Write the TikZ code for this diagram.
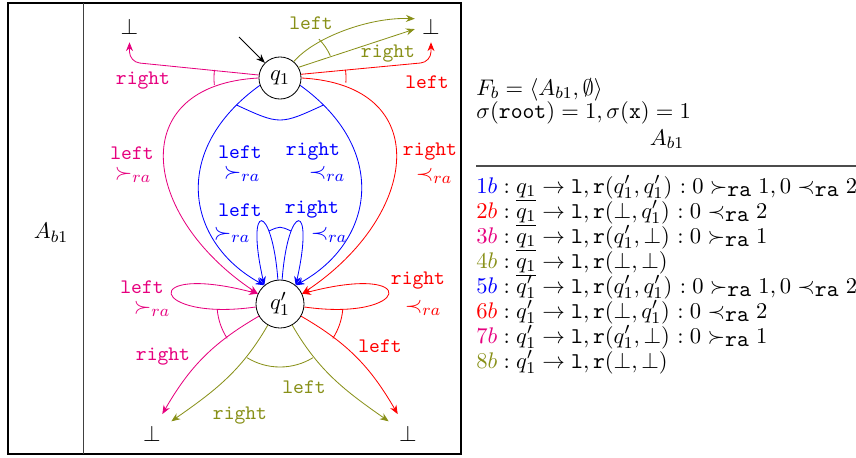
\documentclass[tikz,border=0pt,11pt]{standalone}
\usetikzlibrary{arrows.meta}
\definecolor{cmag}{RGB}{230,0,126}
\definecolor{colive}{RGB}{136,144,24}
\begin{document}
\begin{tikzpicture}[x=0.485pt,y=0.485pt,
  st/.style={circle,draw,inner sep=0pt},
  botnode/.style={rectangle,inner sep=3.4pt},
  lab/.style={font=\fontsize{10}{12}\selectfont\ttfamily,inner sep=0pt},
  rel/.style={inner sep=0pt},
  arr/.style={-{Stealth[length=4.3pt,width=3.4pt]}},
  txt/.style={anchor=base west,inner sep=0pt}
]
\useasboundingbox (0,0) rectangle (856,-457);
% frame
\draw[line width=1pt] (8,-3) rectangle (461,-454);
\draw[black!75] (83,-3) -- (83,-454);
\node (Alab) at (51,-233) {$A_{b1}$};

% states
\node[st,minimum size=20.4pt] (q1) at (280,-78) {$q_1$};
\node[st,minimum size=23.3pt] (q1p) at (280,-304) {$q_1'$};
\node[botnode] (bTL) at (129.5,-27) {$\bot$};
\node[botnode] (bTR) at (431,-27) {$\bot$};
\node[botnode] (bBL) at (152,-433.5) {$\bot$};
\node[botnode] (bBR) at (408,-433.5) {$\bot$};

% initial arrow
\coordinate (init) at (239,-37);
\draw[arr] (init) -- (q1);

% q1 to bottoms (top)
\coordinate (cTL) at (129.5,-62);
\coordinate (cTR) at (431,-62);
\draw[cmag,arr,rounded corners=5pt] (q1.172) -- (cTL) -- (bTL.south);
\draw[red,arr,rounded corners=5pt] (q1.10) -- (cTR) -- (bTR.south);
\draw[colive,arr] (q1.50) .. controls (315,-37) and (370,-17) .. ([yshift=4pt]bTR.west);
\draw[colive,arr] (q1.30) -- ([yshift=-1pt]bTR.west);

% q1 to q1'
\draw[cmag,arr] (q1.180) .. controls (125,-85) and (140,-215) .. (q1p.155);
\draw[red,arr] (q1.0) .. controls (435,-85) and (420,-215) .. (q1p.25);
\draw[blue,arr] (q1.200) .. controls (170,-150) and (186,-242) .. (q1p.130);
\draw[blue,arr] (q1.-20) .. controls (390,-150) and (374,-242) .. (q1p.50);

% loops on q1'
\draw[blue,arr] (q1p.95) .. controls (272,-202) and (245,-200) .. (q1p.130);
\draw[blue,arr] (q1p.85) .. controls (288,-202) and (315,-200) .. (q1p.50);
\draw[cmag,arr] (q1p.187) .. controls (150,-322) and (137,-262) .. (q1p.155);
\draw[red,arr] (q1p.-7) .. controls (410,-322) and (423,-262) .. (q1p.25);

% q1' to bottoms
\draw[cmag,arr] (q1p) to[out=210,in=60] ([xshift=5pt,yshift=2pt]bBL.north);
\draw[red,arr] (q1p) to[out=-30,in=120] ([xshift=-5pt,yshift=2pt]bBR.north);
\draw[colive,arr] (q1p) to[out=240,in=35] ([xshift=1.5pt,yshift=-1.5pt]bBL.north east);
\draw[colive,arr] (q1p) to[out=-60,in=145] ([xshift=-1.5pt,yshift=-1.5pt]bBR.north west);

% and-arcs
\draw[cmag] (q1.center) ++(173:66) arc[start angle=173,end angle=186,radius=66];
\draw[red] (q1.center) ++(-4:66) arc[start angle=-4,end angle=7,radius=66];
\draw[colive] (q1.center) ++(24:55) arc[start angle=24,end angle=45,radius=55];
\draw[blue] (236.5,-105) .. controls (280,-125) .. (323.5,-105);
\draw[blue] (269,-231) .. controls (280,-226) .. (291,-231);
\draw[cmag] (q1p.center) ++(185:63) arc[start angle=185,end angle=213,radius=63];
\draw[red] (q1p.center) ++(-33:63) arc[start angle=-33,end angle=-5,radius=63];
\draw[colive] (q1p.center) ++(238.6:63) arc[start angle=238.6,end angle=301.4,radius=63];

% labels
\node[lab,cmag] (t1) at (143,-81) {right};
\node[lab,colive] (t2) at (311,-23) {left};
\node[lab,colive] (t3) at (388,-54) {right};
\node[lab,red] (t4) at (427,-82) {left};
\node[lab,cmag] (t5) at (132,-153) {left};
\node[rel,cmag] (t5r) at (133,-175) {$\succ_{ra}$};
\node[lab,blue] (t6) at (240,-152) {left};
\node[rel,blue] (t6r) at (242,-174) {$\succ_{ra}$};
\node[lab,blue] (t7) at (313,-152) {right};
\node[rel,blue] (t7r) at (327,-174) {$\prec_{ra}$};
\node[lab,blue] (t8) at (240,-210) {left};
\node[rel,blue] (t8r) at (232,-235) {$\succ_{ra}$};
\node[lab,blue] (t9) at (312,-210) {right};
\node[rel,blue] (t9r) at (329,-235) {$\prec_{ra}$};
\node[lab,red] (t10) at (430,-152) {right};
\node[rel,red] (t10r) at (434,-176) {$\prec_{ra}$};
\node[lab,cmag] (t11) at (142,-287) {left};
\node[rel,cmag] (t11r) at (152,-309) {$\succ_{ra}$};
\node[lab,red] (t12) at (418,-281) {right};
\node[rel,red] (t12r) at (423,-308) {$\prec_{ra}$};
\node[lab,cmag] (t13) at (163,-357) {right};
\node[lab,red] (t14) at (380,-346) {left};
\node[lab,colive] (t15) at (304,-387) {left};
\node[lab,colive] (t16) at (240,-416) {right};

% right-hand text
\node[txt] (fb) at (476,-95) {$F_b = \langle A_{b1}, \emptyset\rangle$};
\node[txt] (sig) at (476,-118) {$\sigma(\texttt{root}) = 1, \sigma(\texttt{x}) = 1$};
\node[anchor=base,inner sep=0pt] (hdr) at (667,-145) {$A_{b1}$};
\coordinate (ruleA) at (476,-166);
\coordinate (ruleB) at (856,-166);
\draw[black!70,line width=0.5pt] (ruleA) -- (ruleB);
\node[txt] (r1) at (476,-193) {$\textcolor{blue}{1b} : \underline{q_1} \rightarrow \texttt{l}, \texttt{r}(q_1', q_1')$ $: 0 \succ_{\texttt{ra}} 1, 0 \prec_{\texttt{ra}} 2$};
\node[txt] (r2) at (476,-218) {$\textcolor{red}{2b} : \underline{q_1} \rightarrow \texttt{l}, \texttt{r}(\bot, q_1')$ $: 0 \prec_{\texttt{ra}} 2$};
\node[txt] (r3) at (476,-243) {$\textcolor{cmag}{3b} : \underline{q_1} \rightarrow \texttt{l}, \texttt{r}(q_1', \bot)$ $: 0 \succ_{\texttt{ra}} 1$};
\node[txt] (r4) at (476,-268) {$\textcolor{colive}{4b} : \underline{q_1} \rightarrow \texttt{l}, \texttt{r}(\bot, \bot)$};
\node[txt] (r5) at (476,-293) {$\textcolor{blue}{5b} : q_1' \rightarrow \texttt{l}, \texttt{r}(q_1', q_1')$ $: 0 \succ_{\texttt{ra}} 1, 0 \prec_{\texttt{ra}} 2$};
\node[txt] (r6) at (476,-318) {$\textcolor{red}{6b} : q_1' \rightarrow \texttt{l}, \texttt{r}(\bot, q_1')$ $: 0 \prec_{\texttt{ra}} 2$};
\node[txt] (r7) at (476,-343) {$\textcolor{cmag}{7b} : q_1' \rightarrow \texttt{l}, \texttt{r}(q_1', \bot)$ $: 0 \succ_{\texttt{ra}} 1$};
\node[txt] (r8) at (476,-368) {$\textcolor{colive}{8b} : q_1' \rightarrow \texttt{l}, \texttt{r}(\bot, \bot)$};
\end{tikzpicture}
\end{document}
